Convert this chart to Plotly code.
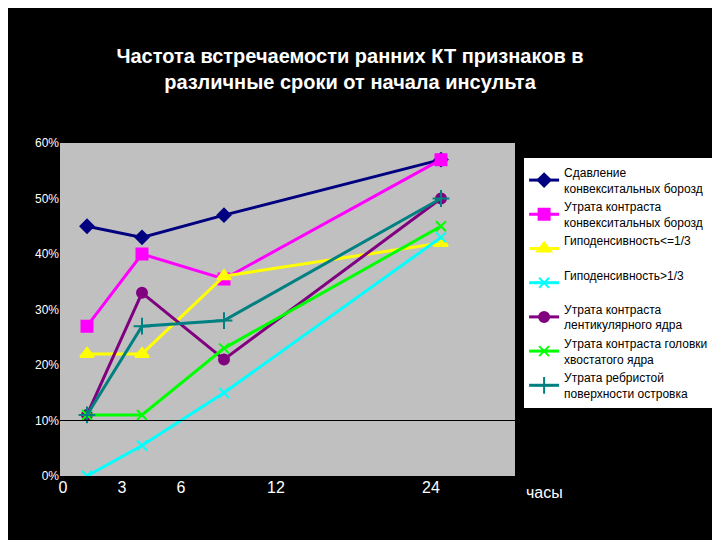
import plotly.graph_objects as go

# horizontal positions of the time points and tick labels (axis units)
x_points = [27, 82, 164, 381]
tick_pos = [3, 62, 121, 216, 371]
tick_text = ["0", "3", "6", "12", "24"]

names = [
    "Сдавление<br>конвекситальных борозд",
    "Утрата контраста<br>конвекситальных борозд",
    "Гиподенсивность<=1/3<br> ",
    "Гиподенсивность>1/3<br> ",
    "Утрата контраста<br>лентикулярного ядра",
    "Утрата контраста головки<br>хвостатого ядра",
    "Утрата ребристой<br>поверхности островка",
]
values = [
    [45, 43, 47, 57],
    [27, 40, 35.5, 57],
    [22, 22, 36, 42],
    [0, 5.5, 15, 43],
    [11, 33, 21, 50],
    [11, 11, 23, 45],
    [11, 27, 28, 50],
]
colors = ["#000080", "#ff00ff", "#ffff00", "#00ffff", "#800080", "#00ff00", "#008080"]
symbols = ["diamond", "square", "triangle-up", "x-thin-open", "circle", "x-thin-open", "cross-thin-open"]
sizes = [10, 11, 12, 10, 10, 10, 12]

fig = go.Figure()
for n, v, c, s, sz in zip(names, values, colors, symbols, sizes):
    fig.add_trace(go.Scatter(
        x=x_points, y=[val / 100 for val in v], name=n, mode="lines+markers",
        line=dict(color=c, width=3),
        marker=dict(symbol=s, size=sz, color=c, line=dict(color=c, width=2)),
    ))

fig.add_hline(y=0.10, line=dict(color="black", width=1))

fig.update_layout(
    width=720, height=540,
    paper_bgcolor="black", plot_bgcolor="#c0c0c0",
    margin=dict(l=52, r=213, t=135, b=72, autoexpand=False),
    font=dict(family="Arial, Liberation Sans", color="white"),
    title=dict(
        text="<b>Частота встречаемости ранних КТ признаков в<br>различные сроки от начала инсульта</b>",
        x=0.475, xanchor="center", y=0.898, yanchor="middle",
        font=dict(size=20, color="white"),
    ),
    xaxis=dict(range=[0, 455], tickvals=tick_pos, ticktext=tick_text,
               showgrid=False, zeroline=False, tickfont=dict(size=16, color="white")),
    yaxis=dict(range=[0, 0.6], dtick=0.1, tickformat=".0%", showgrid=False,
               zeroline=False, tickfont=dict(size=12, color="white")),
    legend=dict(x=1.02, y=0.955, xanchor="left", yanchor="top",
                bgcolor="white", font=dict(size=12, color="black"),
                tracegroupgap=9, itemwidth=30),
    annotations=[dict(text="часы", x=1.02, y=-0.05, xref="paper", yref="paper",
                      xanchor="left", yanchor="middle", showarrow=False,
                      font=dict(size=16, color="white"))],
)

fig.write_html("out.html")
